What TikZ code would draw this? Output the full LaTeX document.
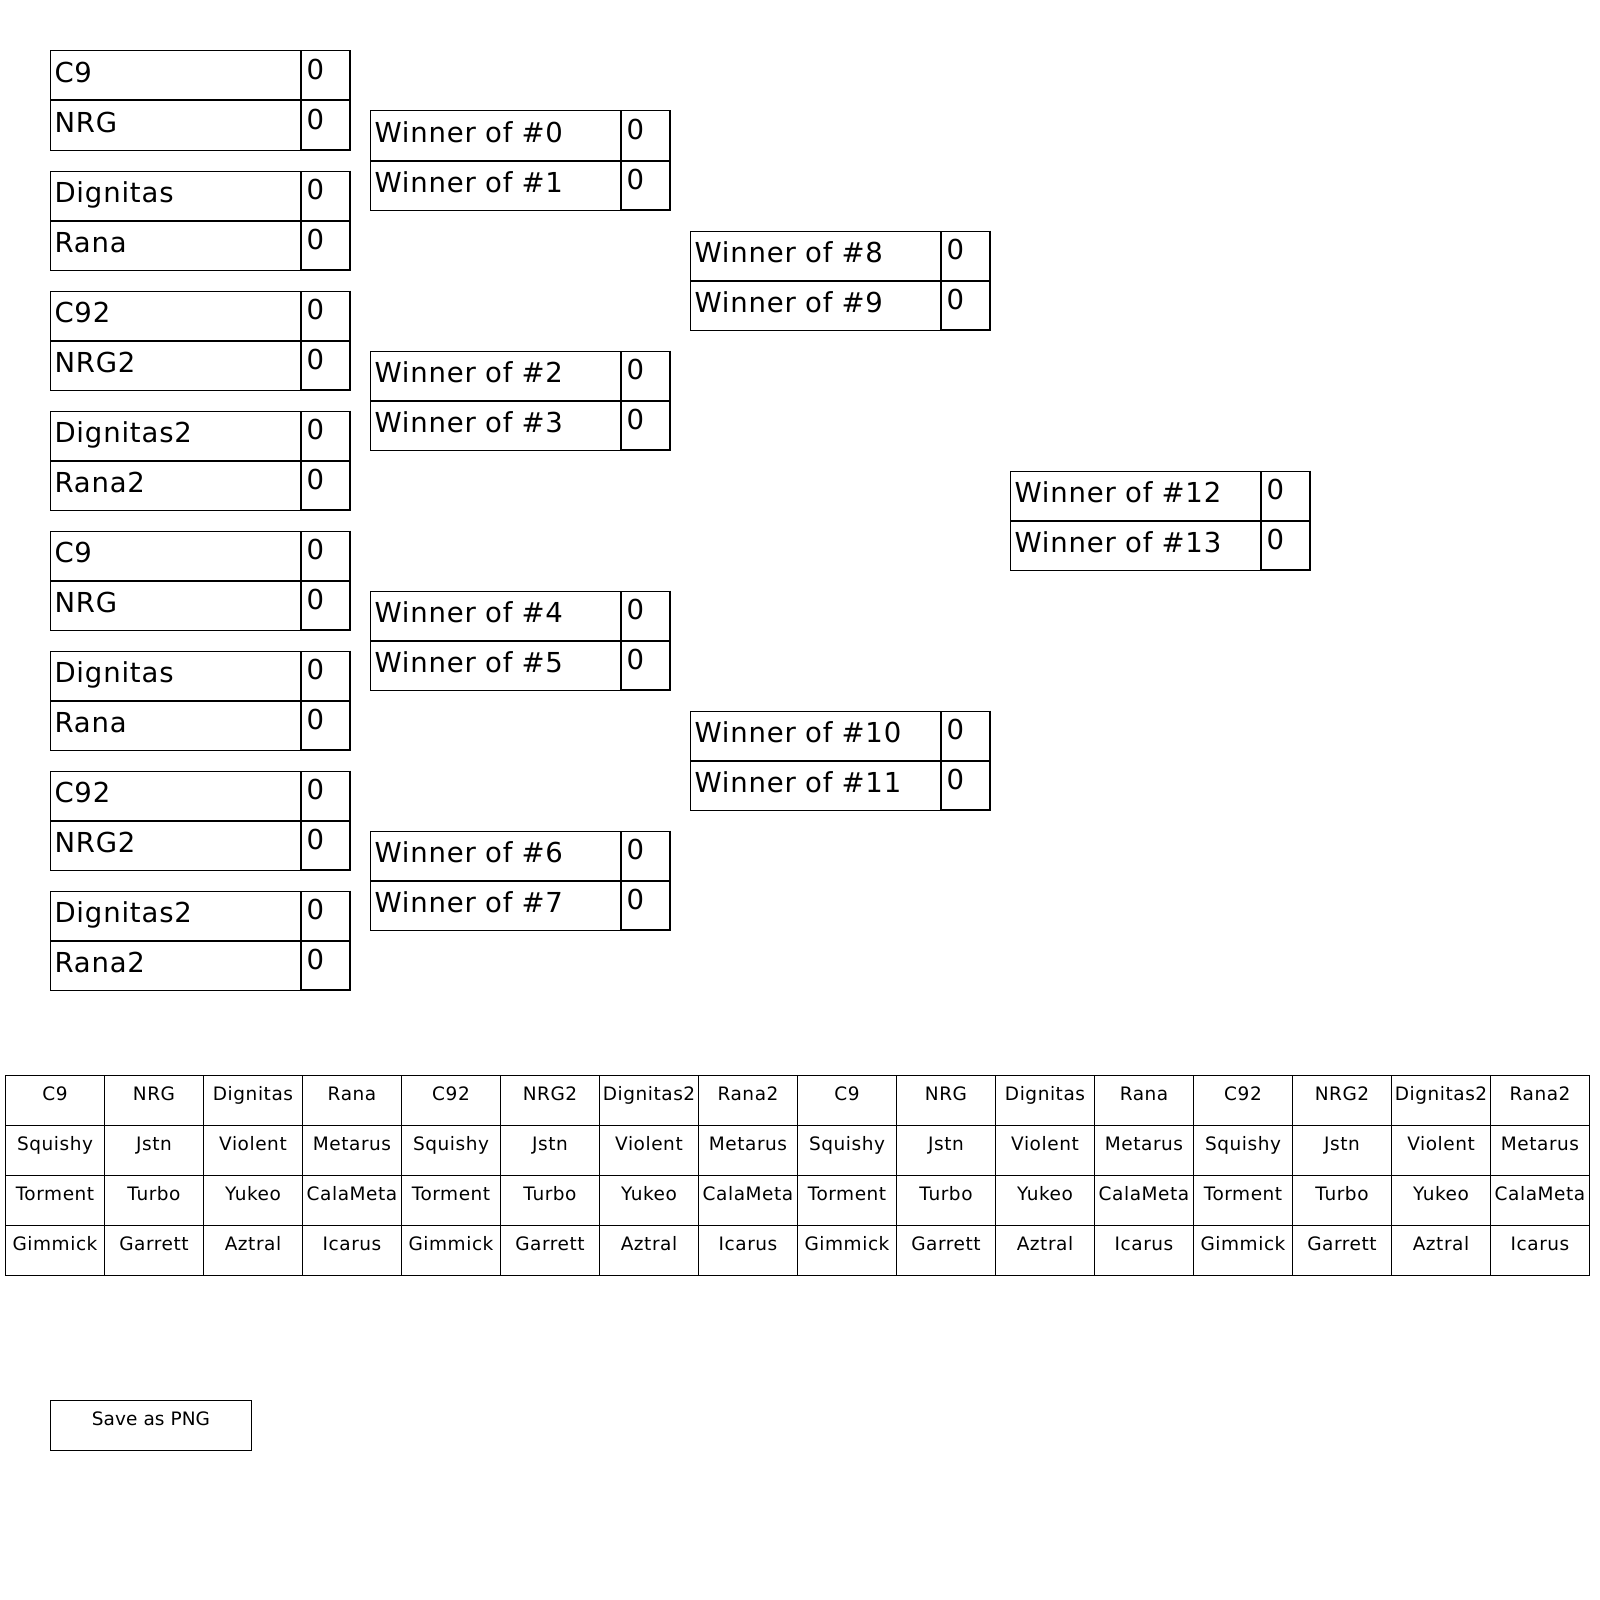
\documentclass[tikz,border=0pt]{standalone}
\usepackage{fontspec}
\setmainfont{DejaVu Sans}
\newfontfamily\bigfont[LetterSpace=3]{DejaVu Sans}
\newfontfamily\smallfont[LetterSpace=3]{DejaVu Sans}
\tikzset{
  cell/.style={draw, line width=1pt, anchor=north west, inner sep=0pt, font=\bigfont\fontsize{27.5}{30}\selectfont},
  namecell/.style={cell, text width=242pt, inner xsep=4pt, text height=31.5pt, text depth=17.5pt, align=left},
  scorecell/.style={cell, text width=38pt, inner xsep=5pt, text height=28.5pt, text depth=20.5pt, align=left},
  scoreedge/.style={line width=2pt},
  tabcell/.style={draw, line width=1pt, anchor=north west, inner sep=0pt, text width=99pt, align=center, text height=25pt, text depth=25pt, font=\smallfont\fontsize{18.5}{20}\selectfont},
  buttoncell/.style={tabcell, text width=201pt, font=\fontsize{18.5}{20}\selectfont},
}
\newcommand\brmatch[5]{%
  \node[namecell] (#1a) at (#2,#3) {#4};
  \node[scorecell] (#1as) at (#1a.north east) {0};
  \node[namecell] (#1b) at (#1a.south west) {#5};
  \node[scorecell] (#1bs) at (#1b.north east) {0};
  \draw[scoreedge] ([xshift=-0.5pt]#1as.north east) -- ([xshift=-0.5pt,yshift=0.5pt]#1bs.south east) -- ([yshift=0.5pt]#1bs.south west);
}
\begin{document}
\begin{tikzpicture}[x=1pt,y=-1pt]
\useasboundingbox (0,0) rectangle (1600,1600);
% round 1
\foreach \k/\ta/\tb in {0/C9/NRG,1/Dignitas/Rana,2/C92/NRG2,3/Dignitas2/Rana2,4/C9/NRG,5/Dignitas/Rana,6/C92/NRG2,7/Dignitas2/Rana2}{
  \pgfmathsetmacro\yy{50.5+120*\k}
  \brmatch{ra\k}{50}{\yy}{\ta}{\tb}
}
% round 2
\foreach \k in {0,...,3}{
  \pgfmathsetmacro\yy{110.5+240*\k}
  \pgfmathtruncatemacro\wa{2*\k}
  \pgfmathtruncatemacro\wb{2*\k+1}
  \brmatch{rb\k}{370}{\yy}{Winner of \#\wa}{Winner of \#\wb}
}
% round 3
\foreach \k in {0,1}{
  \pgfmathsetmacro\yy{230.5+480*\k}
  \pgfmathtruncatemacro\wa{8+2*\k}
  \pgfmathtruncatemacro\wb{9+2*\k}
  \brmatch{rc\k}{690}{\yy}{Winner of \#\wa}{Winner of \#\wb}
}
% final
\brmatch{rd0}{1010}{470.5}{Winner of \#12}{Winner of \#13}
% roster table
\foreach \i/\t/\p/\q/\r in {0/C9/Squishy/Torment/Gimmick,1/NRG/Jstn/Turbo/Garrett,2/Dignitas/Violent/Yukeo/Aztral,3/Rana/Metarus/CalaMeta/Icarus,
  4/C92/Squishy/Torment/Gimmick,5/NRG2/Jstn/Turbo/Garrett,6/Dignitas2/Violent/Yukeo/Aztral,7/Rana2/Metarus/CalaMeta/Icarus,
  8/C9/Squishy/Torment/Gimmick,9/NRG/Jstn/Turbo/Garrett,10/Dignitas/Violent/Yukeo/Aztral,11/Rana/Metarus/CalaMeta/Icarus,
  12/C92/Squishy/Torment/Gimmick,13/NRG2/Jstn/Turbo/Garrett,14/Dignitas2/Violent/Yukeo/Aztral,15/Rana2/Metarus/CalaMeta/Icarus}{
  \pgfmathsetmacro\xx{5+99*\i}
  \node[tabcell] (t\i r0) at (\xx,1075) {\t};
  \node[tabcell] (t\i r1) at (\xx,1125) {\p};
  \node[tabcell] (t\i r2) at (\xx,1175) {\q};
  \node[tabcell] (t\i r3) at (\xx,1225) {\r};
}
% button
\node[buttoncell] (save) at (50,1400) {Save as PNG};
\end{tikzpicture}
\end{document}
